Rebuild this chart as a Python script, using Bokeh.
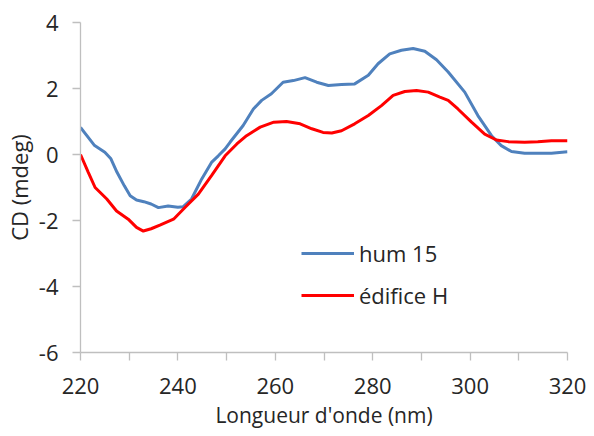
from bokeh.plotting import figure
from bokeh.models import Range1d, FixedTicker, Legend, LegendItem
from bokeh.embed import file_html
from bokeh.resources import INLINE

# hum 15 (blue)
hum_x = [220, 222.9, 225, 226.2, 227.5, 229, 230.2, 231.5, 233, 234.5, 236, 238, 240, 241.1,
         242.8, 244.9, 246.9, 248.3, 249.7, 250.7, 253.4, 255.5, 257.2, 259.2, 261.6, 263.7,
         266.1, 268.5, 270.9, 273.6, 276.3, 279.1, 281.1, 283.5, 285.9, 288.3, 290.7, 293.1,
         295.5, 298.9, 301.6, 304.4, 306.4, 308.5, 311.2, 313.9, 316.7, 320]
hum_y = [0.82, 0.27, 0.07, -0.12, -0.54, -0.95, -1.25, -1.38, -1.43, -1.5, -1.61, -1.56, -1.6, -1.58,
         -1.35, -0.74, -0.24, -0.04, 0.17, 0.37, 0.88, 1.38, 1.64, 1.84, 2.19, 2.24,
         2.33, 2.19, 2.09, 2.12, 2.14, 2.4, 2.75, 3.05, 3.16, 3.21, 3.13, 2.87,
         2.5, 1.89, 1.18, 0.57, 0.27, 0.09, 0.04, 0.04, 0.04, 0.08]

# édifice H (red)
edi_x = [220, 221.6, 223, 225.4, 227.4, 229.8, 231.5, 232.9, 234.5, 236.3, 239.1, 241.5, 244.2,
         246.9, 249.7, 252.1, 254.1, 256.9, 259.7, 262.3, 265.1, 267.5, 269.8, 271.6, 273.6,
         276.3, 279.1, 281.8, 284.2, 286.6, 289, 291.4, 293.8, 295.5, 297.5, 300.3, 303,
         305.4, 307.8, 311.2, 313.9, 316.7, 320]
edi_y = [0.0, -0.54, -1.0, -1.35, -1.71, -1.96, -2.21, -2.32, -2.25, -2.14, -1.96, -1.6, -1.2,
         -0.64, -0.04, 0.32, 0.57, 0.83, 0.98, 1.0, 0.93, 0.78, 0.67, 0.65, 0.72,
         0.93, 1.18, 1.48, 1.79, 1.91, 1.94, 1.89, 1.74, 1.64, 1.38, 0.98, 0.62,
         0.44, 0.39, 0.37, 0.39, 0.42, 0.42]

x_ticks = [220, 230, 240, 250, 260, 270, 280, 290, 300, 310, 320]
x_labels = ["220", "", "240", "", "260", "", "280", "", "300", "", "320"]
y_ticks = [-6, -4, -2, 0, 2, 4]
y_labels = ["-6", "-4", "-2", "0", "2", "4"]

FONT = "Open Sans"
TXT = "#262626"
AX = "#BFBFBF"

p = figure(width=578, height=420, frame_width=487, frame_height=330,
           output_backend="svg", toolbar_location=None,
           x_range=Range1d(220, 320), y_range=Range1d(-6, 4),
           min_border_left=72, min_border_top=22, min_border_right=19, min_border_bottom=68)
p.outline_line_color = None
p.grid.grid_line_color = None

p.xaxis.ticker = FixedTicker(ticks=x_ticks)
p.xaxis.major_label_overrides = {t: l for t, l in zip(x_ticks, x_labels)}
p.yaxis.ticker = FixedTicker(ticks=y_ticks)
p.yaxis.major_label_overrides = {t: l for t, l in zip(y_ticks, y_labels)}
for ax in (p.xaxis, p.yaxis):
    ax.axis_line_color = AX
    ax.axis_line_width = 1.3
    ax.major_tick_line_color = AX
    ax.major_tick_line_width = 1.3
    ax.major_tick_out = 8
    ax.major_tick_in = 0
    ax.minor_tick_line_color = None
    ax.major_label_text_font = FONT
    ax.major_label_text_font_size = "22px"
    ax.major_label_text_color = TXT
    ax.axis_label_text_font = FONT
    ax.axis_label_text_font_size = "22px"
    ax.axis_label_text_font_style = "normal"
    ax.axis_label_text_color = TXT
p.xaxis.axis_label = "Longueur d'onde (nm)"
p.yaxis.axis_label = "CD (mdeg)"
p.xaxis.axis_label_text_font_size = "21px"
p.xaxis.major_label_standoff = 17
p.yaxis.major_label_standoff = 14
p.xaxis.axis_label_standoff = 4
p.yaxis.axis_label_standoff = 2

r1 = p.line(hum_x, hum_y, line_color="#4F81BD", line_width=3)
r2 = p.line(edi_x, edi_y, line_color="#FF0000", line_width=3)

legend = Legend(items=[LegendItem(label="hum 15", renderers=[r1]),
                       LegendItem(label="édifice H", renderers=[r2])],
                location=(221, 36), orientation="vertical",
                background_fill_alpha=0, border_line_color=None,
                padding=0, margin=0, spacing=0,
                glyph_width=53, glyph_height=42, label_height=42,
                label_standoff=5,
                label_text_font=FONT, label_text_font_size="22px",
                label_text_color=TXT)
p.add_layout(legend)

open("out.html", "w").write(file_html(p, INLINE))
